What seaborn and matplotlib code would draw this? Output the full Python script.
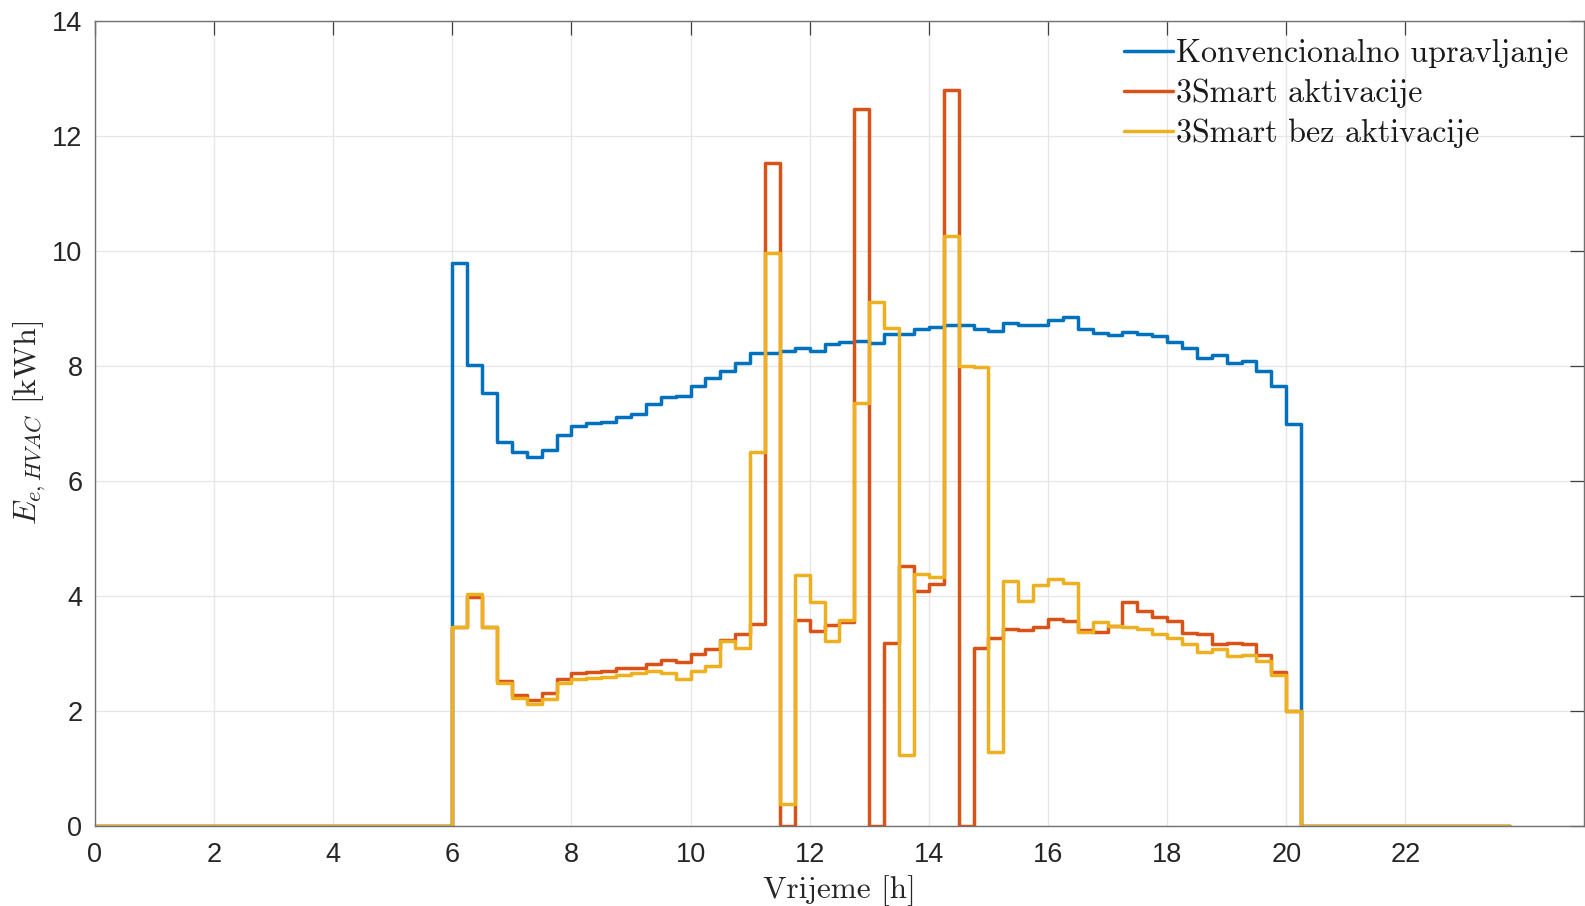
import numpy as np
import pandas as pd
import matplotlib
matplotlib.use("Agg")
import matplotlib.pyplot as plt
import seaborn as sns

# time axis, 15-minute steps (h)
t = np.arange(0, 24, 0.25)

konvencionalno = [
    0.0, 0.0, 0.0, 0.0, 0.0, 0.0, 0.0, 0.0, 0.0, 0.0, 0.0, 0.0,
    0.0, 0.0, 0.0, 0.0, 0.0, 0.0, 0.0, 0.0, 0.0, 0.0, 0.0, 0.0,
    9.78, 8.01, 7.52, 6.68, 6.50, 6.42, 6.53, 6.79,
    6.96, 7.01, 7.03, 7.10, 7.16, 7.33, 7.45, 7.47,
    7.65, 7.79, 7.90, 8.04, 8.22, 8.22, 8.25, 8.31,
    8.26, 8.38, 8.42, 8.43, 8.40, 8.55, 8.56, 8.63,
    8.67, 8.71, 8.70, 8.64, 8.60, 8.75, 8.71, 8.71,
    8.80, 8.84, 8.64, 8.57, 8.53, 8.58, 8.56, 8.52,
    8.42, 8.30, 8.13, 8.18, 8.04, 8.08, 7.91, 7.65,
    6.98,
    0.0, 0.0, 0.0, 0.0, 0.0, 0.0, 0.0, 0.0, 0.0, 0.0, 0.0, 0.0, 0.0, 0.0, 0.0,
]

aktivacije = [
    0.0, 0.0, 0.0, 0.0, 0.0, 0.0, 0.0, 0.0, 0.0, 0.0, 0.0, 0.0,
    0.0, 0.0, 0.0, 0.0, 0.0, 0.0, 0.0, 0.0, 0.0, 0.0, 0.0, 0.0,
    3.45, 3.98, 3.45, 2.52, 2.28, 2.19, 2.31, 2.56,
    2.66, 2.68, 2.70, 2.74, 2.75, 2.82, 2.88, 2.84,
    2.99, 3.08, 3.23, 3.33, 3.51, 11.53, 0.0, 3.58,
    3.39, 3.50, 3.55, 12.46, 0.0, 3.18, 4.52, 4.09,
    4.20, 12.80, 0.0, 3.09, 3.26, 3.42, 3.40, 3.46,
    3.59, 3.57, 3.40, 3.37, 3.48, 3.89, 3.74, 3.63,
    3.57, 3.35, 3.33, 3.16, 3.18, 3.16, 2.97, 2.67,
    2.00,
    0.0, 0.0, 0.0, 0.0, 0.0, 0.0, 0.0, 0.0, 0.0, 0.0, 0.0, 0.0, 0.0, 0.0, 0.0,
]

bez_aktivacije = [
    0.0, 0.0, 0.0, 0.0, 0.0, 0.0, 0.0, 0.0, 0.0, 0.0, 0.0, 0.0,
    0.0, 0.0, 0.0, 0.0, 0.0, 0.0, 0.0, 0.0, 0.0, 0.0, 0.0, 0.0,
    3.45, 4.03, 3.45, 2.48, 2.23, 2.11, 2.20, 2.48,
    2.55, 2.57, 2.59, 2.62, 2.65, 2.69, 2.66, 2.56,
    2.69, 2.78, 3.22, 3.10, 6.50, 9.96, 0.38, 4.36,
    3.90, 3.21, 3.58, 7.36, 9.11, 8.66, 1.24, 4.37,
    4.33, 10.26, 8.00, 7.97, 1.28, 4.26, 3.91, 4.18,
    4.29, 4.23, 3.37, 3.55, 3.48, 3.46, 3.42, 3.34,
    3.27, 3.16, 3.03, 3.07, 2.95, 2.97, 2.87, 2.63,
    2.00,
    0.0, 0.0, 0.0, 0.0, 0.0, 0.0, 0.0, 0.0, 0.0, 0.0, 0.0, 0.0, 0.0, 0.0, 0.0,
]

series_labels = ["Konvencionalno upravljanje", "3Smart aktivacije", "3Smart bez aktivacije"]
colors = ["#0072BD", "#D95319", "#EDB120"]
xticks = list(range(0, 23, 2))
yticks = list(range(0, 15, 2))

df = pd.DataFrame({"t": t, "k": konvencionalno, "a": aktivacije, "b": bez_aktivacije})

sns.set_theme(style="white")
plt.rcParams["font.family"] = ["Liberation Sans", "DejaVu Sans"]
plt.rcParams["mathtext.fontset"] = "cm"

fig = plt.figure(figsize=(15.85, 9.06), dpi=100)
ax = fig.add_axes([0.0599, 0.0885, 0.9395, 0.8887])

for col, lab, c in zip(["k", "a", "b"], series_labels, colors):
    sns.lineplot(data=df, x="t", y=col, ax=ax, color=c, lw=2.5,
                 drawstyle="steps-post", label=lab, estimator=None)

ax.set_xlim(0, 25)
ax.set_ylim(0, 14)
ax.set_xticks(xticks)
ax.set_yticks(yticks)
ax.grid(True, color="#e6e6e6", lw=0.9)
ax.set_axisbelow(True)

for s in ax.spines.values():
    s.set_color("#707070")
    s.set_linewidth(1.0)

ax.tick_params(axis="both", which="both", direction="in", length=10, width=0.9,
               color="#404040", labelsize=19.5, labelcolor="#262626",
               top=True, right=True)
ax.tick_params(axis="x", pad=12)
ax.tick_params(axis="y", pad=9)

ax.set_xlabel("Vrijeme [h]", fontfamily="cmr10", fontsize=22.5, color="#262626", labelpad=5)
ax.set_ylabel(r"$E_{e,HVAC}$ [kWh]", fontfamily="cmr10", fontsize=23, color="#262626", labelpad=3)

leg = ax.legend(loc="upper left", bbox_to_anchor=(0.691, 0.977), frameon=False,
                prop={"family": "cmr10", "size": 23.1}, handlelength=1.53,
                handletextpad=0.1, borderpad=0, borderaxespad=0, labelspacing=0.33)
for txt in leg.get_texts():
    txt.set_color("#1a1a1a")

fig.savefig("out.png", dpi=100)
